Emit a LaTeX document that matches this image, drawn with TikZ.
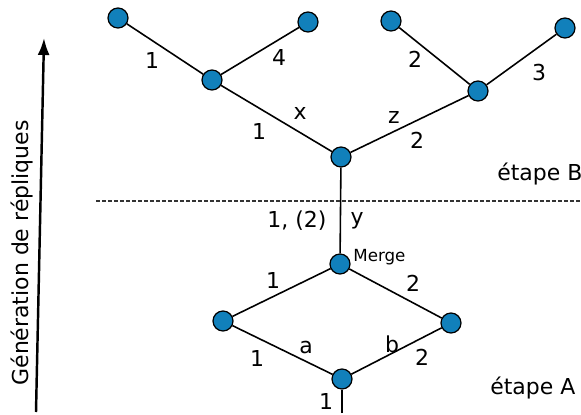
\documentclass[tikz,border=0pt]{standalone}
\usepackage{fontspec}
\setmainfont{DejaVu Sans}
\usepackage{xcolor}
\usepackage{tikz}
\usetikzlibrary{arrows.meta}
\definecolor{replicablue}{RGB}{17, 128, 187}

\begin{document}
\begin{tikzpicture}[
    x=0.02cm, y=-0.02cm,
    replica/.style={
        circle, draw=black, fill=replicablue,
        line width=0.7pt, inner sep=0pt, minimum size=0.4cm
    },
    lbl/.style={inner sep=0pt, font=\fontsize{12.5}{15}\selectfont},
    small/.style={inner sep=0pt, font=\fontsize{9.5}{11}\selectfont},
    edge/.style={line width=0.9pt, color=black}
]
    \useasboundingbox (0,0) rectangle (581,415);

    % etape A
    \node[replica] (a0) at (342,379) {};
    \node[replica] (a1) at (223,321) {};
    \node[replica] (a2) at (451,323) {};
    \node[replica] (m) at (340,264) {};
    \coordinate (root) at (342,413);

    % etape B
    \node[replica] (b0) at (341,157) {};
    \node[replica] (b1) at (212,80) {};
    \node[replica] (b2) at (478,91) {};
    \node[replica] (b11) at (118,18) {};
    \node[replica] (b12) at (308,22) {};
    \node[replica] (b21) at (391,21) {};
    \node[replica] (b22) at (565,28) {};

    \draw[edge] (root) -- (a0);
    \draw[edge] (a0) -- (a1);
    \draw[edge] (a0) -- (a2);
    \draw[edge] (a1) -- (m);
    \draw[edge] (a2) -- (m);
    \draw[edge] (m) -- (b0);
    \draw[edge] (b0) -- (b1);
    \draw[edge] (b0) -- (b2);
    \draw[edge] (b1) -- (b11);
    \draw[edge] (b1) -- (b12);
    \draw[edge] (b2) -- (b21);
    \draw[edge] (b2) -- (b22);

    % separation
    \coordinate (sepL) at (96,201);
    \coordinate (sepR) at (581,201);
    \draw[black!80, line width=0.6pt, dash pattern=on 0.08cm off 0.04cm] (sepL) -- (sepR);

    % axe
    \coordinate (axBot) at (36,412);
    \coordinate (axTop) at (44,38);
    \draw[line width=1.4pt, -{Latex[length=0.34cm, width=0.24cm]}] (axBot) -- (axTop);
    \node[lbl, rotate=90] (axlbl) at (22,253) {Génération de répliques};

    % labels
    \node[lbl] (l1) at (152,60) {1};
    \node[lbl] (l2) at (279,57) {4};
    \node[lbl] (l3) at (300,113) {x};
    \node[lbl] (l4) at (259,131) {1};
    \node[lbl] (l5) at (415,59) {2};
    \node[lbl] (l6) at (539,73) {3};
    \node[lbl] (l7) at (394,117) {z};
    \node[lbl] (l8) at (417,140) {2};
    \node[lbl, anchor=west] (stB) at (497,174) {étape B};
    \node[lbl] (l9) at (297,221) {1, (2)};
    \node[lbl] (l10) at (357,221) {y};
    \node[small, anchor=west] (merge) at (353,257) {Merge};
    \node[lbl] (l11) at (273,280) {1};
    \node[lbl] (l12) at (413,283) {2};
    \node[lbl] (l13) at (257,358) {1};
    \node[lbl] (l14) at (306,348) {a};
    \node[lbl] (l15) at (392,344) {b};
    \node[lbl] (l16) at (422,357) {2};
    \node[lbl] (l17) at (326,401) {1};
    \node[lbl, anchor=west] (stA) at (490,388) {étape A};
\end{tikzpicture}
\end{document}
